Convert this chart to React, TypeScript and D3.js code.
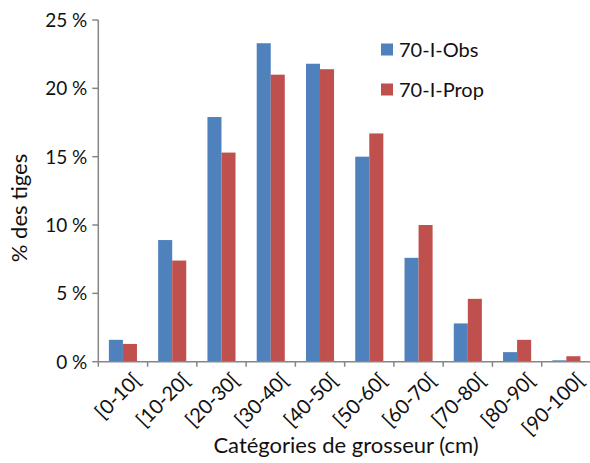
import React from "react";
import * as d3 from "d3";

const categories = ["[0-10[", "[10-20[", "[20-30[", "[30-40[", "[40-50[", "[50-60[", "[60-70[", "[70-80[", "[80-90[", "[90-100["];
const obsValues = [1.6, 8.9, 17.9, 23.3, 21.8, 15.0, 7.6, 2.8, 0.7, 0.1];
const propValues = [1.3, 7.4, 15.3, 21.0, 21.4, 16.7, 10.0, 4.6, 1.6, 0.4];
const seriesNames = ["70-I-Obs", "70-I-Prop"];
const yTicks = [0, 5, 10, 15, 20, 25];

const W = 590, H = 463;
const left = 98.3, right = 591, top = 20, bottom = 361.7;
const colors = ["#4F81BD", "#C0504D"];
const axisColor = "#868686";
const font = "Lato, 'Open Sans', sans-serif";

export default function App() {
  const x = d3.scaleBand<string>().domain(categories).range([left, right]).paddingInner(0).paddingOuter(0);
  const y = d3.scaleLinear().domain([0, 25]).range([bottom, top]);
  const series = [obsValues, propValues];
  const bw = x.bandwidth();
  const barW = bw * 0.285;
  const groupOffset = (bw - 2 * barW) / 2;

  return (
    <svg width={W} height={H} style={{ position: "absolute", left: 0, top: 0, background: "#fff" }} fontFamily={font}>
      {series.map((vals, si) =>
        vals.map((v, i) => (
          <rect
            key={`${si}-${i}`}
            x={(x(categories[i]) as number) + groupOffset + si * barW}
            y={y(v)}
            width={barW}
            height={bottom - y(v)}
            fill={colors[si]}
          />
        ))
      )}
      <line x1={left} x2={left} y1={top} y2={bottom} stroke={axisColor} strokeWidth={1.5} />
      {yTicks.map((t) => (
        <g key={t}>
          <line x1={left - 6} x2={left} y1={y(t)} y2={y(t)} stroke={axisColor} strokeWidth={1.5} />
          <text x={left - 11} y={y(t)} dy="0.36em" textAnchor="end" fontSize={19} fill="#111">{`${t} %`}</text>
        </g>
      ))}
      <line x1={left} x2={right} y1={bottom} y2={bottom} stroke={axisColor} strokeWidth={1.5} />
      {categories.map((c, i) => (
        <line key={`t${i}`} x1={x(c) as number} x2={x(c) as number} y1={bottom} y2={bottom + 5} stroke={axisColor} strokeWidth={1.5} />
      ))}
      {categories.map((c) => {
        const cx = (x(c) as number) + bw / 2 + 9;
        const cy = bottom + 10;
        return (
          <text key={c} transform={`translate(${cx},${cy}) rotate(-45)`} textAnchor="end" dy="0.7em" fontSize={20} fill="#111">{c}</text>
        );
      })}
      <text transform={`translate(27,208) rotate(-90)`} textAnchor="middle" fontSize={22} fill="#111">% des tiges</text>
      <text x={346} y={453} textAnchor="middle" fontSize={22} fill="#111">Catégories de grosseur (cm)</text>
      {seriesNames.map((n, i) => (
        <g key={n} transform={`translate(381,${43.5 + i * 40})`}>
          <rect x={0} y={0} width={12} height={12} fill={colors[i]} />
          <text x={18} y={6} dy="0.36em" fontSize={20} fill="#111">{n}</text>
        </g>
      ))}
    </svg>
  );
}
